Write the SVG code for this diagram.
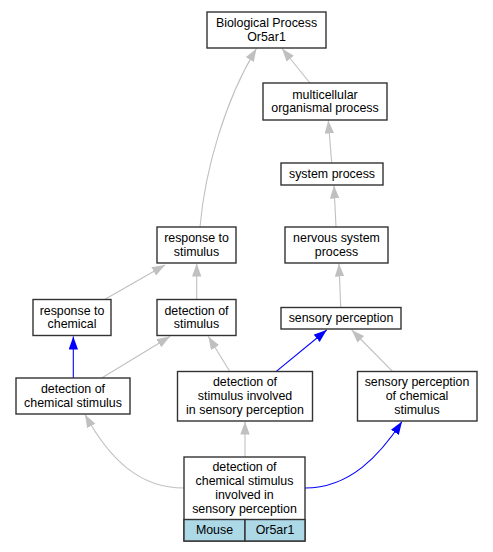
<svg xmlns="http://www.w3.org/2000/svg" width="493" height="552" viewBox="0 0 493 552">
<style>
.n rect{fill:#fff;stroke:#333;stroke-width:1.4}
.n rect.lb{fill:#add8e6}
.n text{font-family:"Liberation Sans",Arial,sans-serif;font-size:12.4px;fill:#000;text-anchor:middle}
.e path{fill:none;stroke-width:1.1}
.g{stroke:#c0c0c0;marker-end:url(#ag)}
.b{stroke:#0000ff;marker-end:url(#ab)}
</style>
<defs>
<marker id="ag" markerUnits="userSpaceOnUse" markerWidth="14" markerHeight="10" refX="13" refY="4.7" orient="auto"><path d="M0,0 L13,4.7 L0,9.4 Z" fill="#c0c0c0"/></marker>
<marker id="ab" markerUnits="userSpaceOnUse" markerWidth="14" markerHeight="10" refX="13" refY="4.7" orient="auto"><path d="M0,0 L13,4.7 L0,9.4 Z" fill="#0000ff"/></marker>
</defs>
<rect width="493" height="552" fill="#fff"/>
<g class="e" id="edges">
<path class="g" d="M310,83 L282,48.5"/>
<path class="g" d="M331.7,163 L328.3,120.5"/>
<path class="g" d="M336,227 L334,185.5"/>
<path class="g" d="M200,227 C205,170 225,100 256.5,48.5"/>
<path class="g" d="M340.7,307 L339,263.5"/>
<path class="g" d="M105,299.3 L165,265"/>
<path class="g" d="M196.7,299 L196.7,263.5"/>
<path class="b" d="M73.3,378 L73.3,336.5"/>
<path class="g" d="M101.7,378 L170,336.5"/>
<path class="g" d="M230,371.7 L208.3,336.5"/>
<path class="b" d="M276,371.7 L326.7,330"/>
<path class="g" d="M392.7,371.7 L351.7,330"/>
<path class="g" d="M184,488 C140,488 110,460 85,414.5"/>
<path class="g" d="M245,457 L245,421.5"/>
<path class="b" d="M305,488 C350,488 380,455 402,421.5"/>
</g>
<g class="n" id="n_bp"><rect x="207" y="12" width="119" height="36"/><text x="266.5" y="27">Biological Process<tspan x="266.5" dy="13.9">Or5ar1</tspan></text></g>
<g class="n" id="n_multi"><rect x="263" y="83" width="124" height="37"/><text x="325" y="98.5">multicellular<tspan x="325" dy="13.9">organismal process</tspan></text></g>
<g class="n" id="n_sys"><rect x="281" y="163" width="102" height="22"/><text x="332" y="178">system process</text></g>
<g class="n" id="n_nerv"><rect x="285" y="227" width="103" height="36"/><text x="336.5" y="242">nervous system<tspan x="336.5" dy="13.9">process</tspan></text></g>
<g class="n" id="n_resp"><rect x="157" y="227" width="79" height="36"/><text x="196.5" y="242">response to<tspan x="196.5" dy="13.9">stimulus</tspan></text></g>
<g class="n" id="n_rchem"><rect x="33" y="299.5" width="78" height="36"/><text x="72" y="314.5">response to<tspan x="72" dy="13.9">chemical</tspan></text></g>
<g class="n" id="n_dstim"><rect x="157" y="299.5" width="79" height="36"/><text x="196.5" y="314.5">detection of<tspan x="196.5" dy="13.9">stimulus</tspan></text></g>
<g class="n" id="n_sens"><rect x="281" y="307.5" width="120" height="21.5"/><text x="341" y="322.3">sensory perception</text></g>
<g class="n" id="n_dchem"><rect x="16" y="378" width="114" height="36"/><text x="73" y="393">detection of<tspan x="73" dy="13.9">chemical stimulus</tspan></text></g>
<g class="n" id="n_dsens"><rect x="177.5" y="371.5" width="135" height="49.5"/><text x="245" y="386.3">detection of<tspan x="245" dy="13.9">stimulus involved</tspan><tspan x="245" dy="13.9">in sensory perception</tspan></text></g>
<g class="n" id="n_spchem"><rect x="357.5" y="371.5" width="119.5" height="49.5"/><text x="417" y="386.3">sensory perception<tspan x="417" dy="13.9">of chemical</tspan><tspan x="417" dy="13.9">stimulus</tspan></text></g>
<g class="n" id="n_main"><rect x="184" y="457" width="121" height="84"/><text x="244.5" y="471.4">detection of<tspan x="244.5" dy="13.9">chemical stimulus</tspan><tspan x="244.5" dy="13.9">involved in</tspan><tspan x="244.5" dy="13.9">sensory perception</tspan></text><rect class="lb" x="184" y="519.5" width="61" height="21.5"/><rect class="lb" x="245" y="519.5" width="60" height="21.5"/><text x="214.5" y="534.2">Mouse</text><text x="275" y="534.2">Or5ar1</text></g>
</svg>
